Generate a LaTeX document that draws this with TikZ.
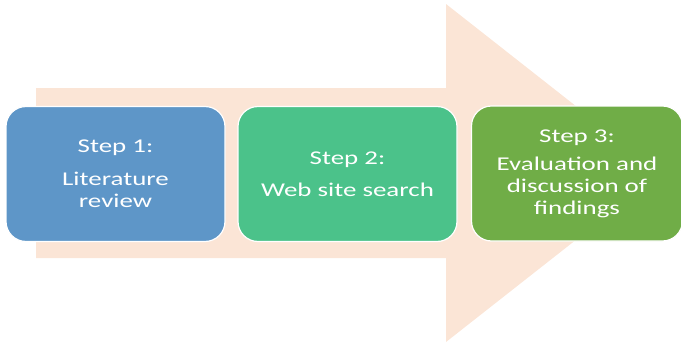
\documentclass[tikz,border=0pt]{standalone}
\usepackage{fontspec}
\setmainfont{Carlito}[FakeStretch=1.38]
\usepackage{tikz}
\definecolor{peach}{HTML}{FBE5D6}
\definecolor{boxblue}{HTML}{5E96C8}
\definecolor{boxteal}{HTML}{4BC28A}
\definecolor{boxgreen}{HTML}{70AD47}
\begin{document}
\begin{tikzpicture}[x=1pt,y=-1pt]
    \tikzstyle{box} = [draw=white,line width=1.2pt,rounded corners=20pt,
      minimum height=135pt,text=white,align=center,inner sep=0pt,
      font=\fontsize{19.5}{22}\selectfont]
    \useasboundingbox (0,0) rectangle (681,343);
    %%
    \fill [peach] (36,88) -- (446,88) -- (446,4) -- (661,173)
      -- (446,342) -- (446,258) -- (36,258) -- cycle;
    %%
    \node [box,fill=boxblue,minimum width=219pt] (lit) at (115.5,174)
      {Step 1:\\[11pt] Literature\\ review};
    \node [box,fill=boxteal,minimum width=219pt] (web) at (347.5,174)
      {Step 2:\\[10pt] Web\ site\ search};
    \node [box,fill=boxgreen,minimum width=211pt] (eval) at (577,173.5)
      {Step 3:\\[6pt] Evaluation and\\ discussion of\\ findings};
\end{tikzpicture}
\end{document}
